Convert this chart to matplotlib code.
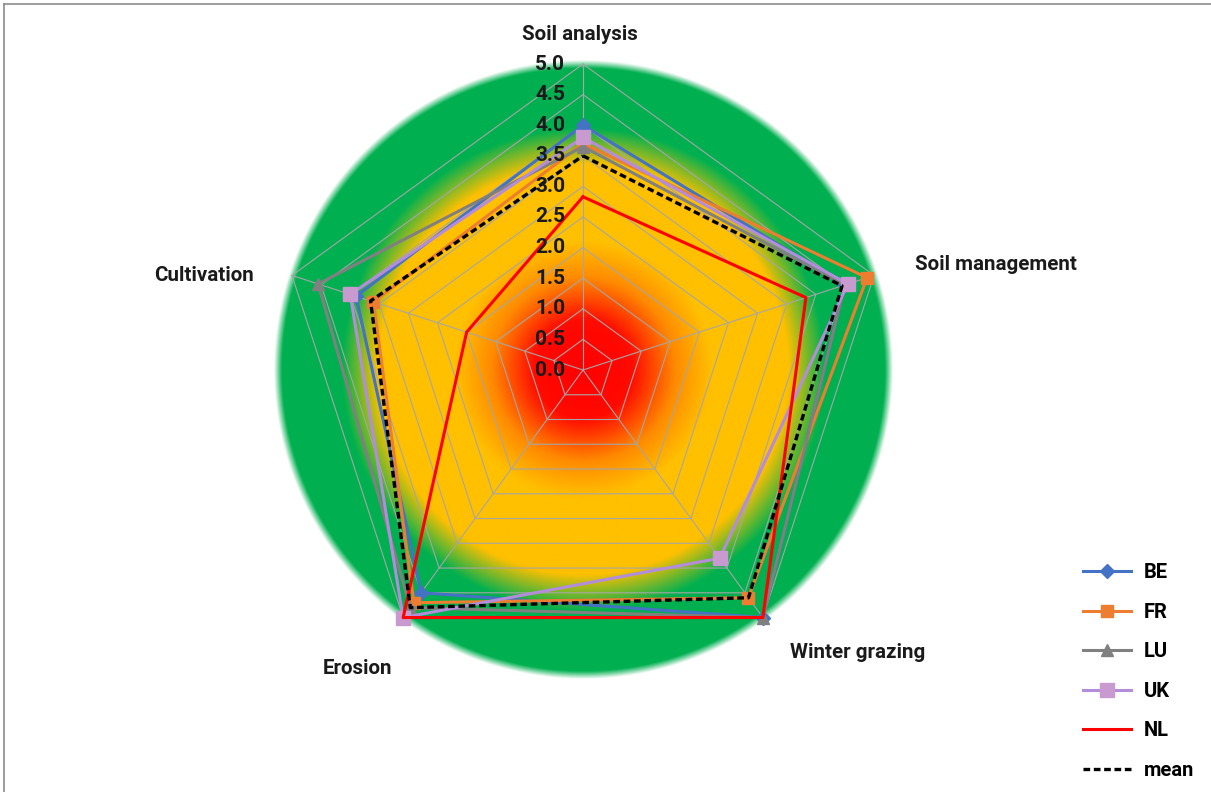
import numpy as np
import matplotlib.pyplot as plt
from matplotlib.colors import to_rgb
from matplotlib.lines import Line2D

plt.rcParams["font.family"] = ["Roboto", "DejaVu Sans"]

categories = ["Soil analysis", "Soil management", "Winter grazing", "Erosion", "Cultivation"]
be = [4.0, 4.5, 5.0, 4.5, 3.9]
fr = [3.7, 4.88, 4.6, 4.7, 3.6]
lu = [3.65, 4.5, 5.0, 4.8, 4.55]
uk = [3.8, 4.55, 3.8, 5.0, 4.0]
nl = [2.83, 3.83, 5.0, 5.0, 2.0]
mean = [3.5, 4.45, 4.6, 4.8, 3.65]
tick_values = [0.0, 0.5, 1.0, 1.5, 2.0, 2.5, 3.0, 3.5, 4.0, 4.5, 5.0]
rmax = 5.0

# axes go clockwise from the top
angles = np.deg2rad(90 - 72 * np.arange(len(categories)))


def to_xy(vals):
    vals = np.asarray(vals, dtype=float)
    x = vals * np.cos(angles)
    y = vals * np.sin(angles)
    return np.append(x, x[0]), np.append(y, y[0])


W, H, DPI = 1211, 792, 100
cx, cy, scale = 583, 370, 61.2  # centre in pixels, pixels per unit

fig = plt.figure(figsize=(W / DPI, H / DPI), dpi=DPI)
ax = fig.add_axes([0, 0, 1, 1])
ax.set_xlim(-cx / scale, (W - cx) / scale)
ax.set_ylim(-(H - cy) / scale, cy / scale)
ax.axis("off")

# radial colour fill: red core, yellow band, green rim
stops = [0.0, 0.8, 1.5, 2.1, 3.35, 3.95, 4.93, 5.06]
cols = ["#ff0000", "#ff0a00", "#ff8a00", "#ffc000", "#ffc000", "#00b050", "#00b050", "#00b050"]
alphas = [1, 1, 1, 1, 1, 1, 1, 0]
n = 900
g = np.linspace(-5.3, 5.3, n)
gx, gy = np.meshgrid(g, g)
rr = np.hypot(gx, gy)
rgb = np.array([to_rgb(c) for c in cols])
img = np.zeros((n, n, 4))
for k in range(3):
    img[..., k] = np.interp(rr, stops, rgb[:, k])
img[..., 3] = np.interp(rr, stops, alphas)
ax.imshow(img, extent=(-5.3, 5.3, -5.3, 5.3), origin="lower", zorder=0,
          interpolation="bilinear")

# pentagon grid and spokes
for t in tick_values[1:]:
    gxs, gys = to_xy([t] * len(categories))
    ax.plot(gxs, gys, color="#a6a6a6", lw=0.8, zorder=1)
for a in angles:
    ax.plot([0, rmax * np.cos(a)], [0, rmax * np.sin(a)], color="#a6a6a6", lw=0.8, zorder=1)

for t in tick_values:
    ax.text(-0.29, t, f"{t:.1f}", ha="right", va="center", fontsize=15,
            fontweight="bold", color="#1a1a1a", zorder=5)

# category labels
label_pos = [(-0.05, 5.49), (6.75, 1.72), (4.48, -4.61), (-3.68, -4.87), (-6.19, 1.55)]
for name, (lx, ly) in zip(categories, label_pos):
    ax.text(lx, ly, name, ha="center", va="center", fontsize=14.8,
            fontweight="bold", color="#1a1a1a")

series = [
    ("BE", be, "#4472c4", "D", "#4472c4", 7),
    ("FR", fr, "#ed7d31", "s", "#ed7d31", 9),
    ("LU", lu, "#808080", "^", "#808080", 9),
    ("UK", uk, "#b48cdc", "s", "#c89ad0", 10),
    ("NL", nl, "#ff0000", None, None, 0),
]
handles = []
for name, vals, color, marker, mfc, ms in series:
    xs, ys = to_xy(vals)
    ax.plot(xs, ys, color=color, lw=2.2, zorder=3)
    if marker:
        ax.plot(xs[:-1], ys[:-1], ls="none", marker=marker, ms=ms, mfc=mfc,
                mec=mfc, zorder=3)
    handles.append(Line2D([], [], color=color, lw=2.2, marker=marker, ms=ms,
                          mfc=mfc, mec=mfc, label=name))

dash = (0, (2, 1.1))
xs, ys = to_xy(mean)
ax.plot(xs, ys, color="black", lw=2.4, ls=dash, zorder=4)
handles.append(Line2D([], [], color="black", lw=2.4, ls=dash, label="mean"))

leg = fig.legend(handles=handles, loc="upper left",
                 bbox_to_anchor=(1075 / W, 1 - 555 / H), frameon=False,
                 borderaxespad=0, handlelength=2.4, handletextpad=0.6,
                 labelspacing=1.02, prop={"size": 14.5, "weight": "bold"})

# thin frame along the top and left edges
fig.add_artist(Line2D([4 / W, 1], [1 - 4 / H, 1 - 4 / H], color="#8c8c8c", lw=1.2,
                      transform=fig.transFigure))
fig.add_artist(Line2D([4 / W, 4 / W], [0, 1 - 4 / H], color="#8c8c8c", lw=1.2,
                      transform=fig.transFigure))

fig.savefig("out.png", dpi=DPI)
